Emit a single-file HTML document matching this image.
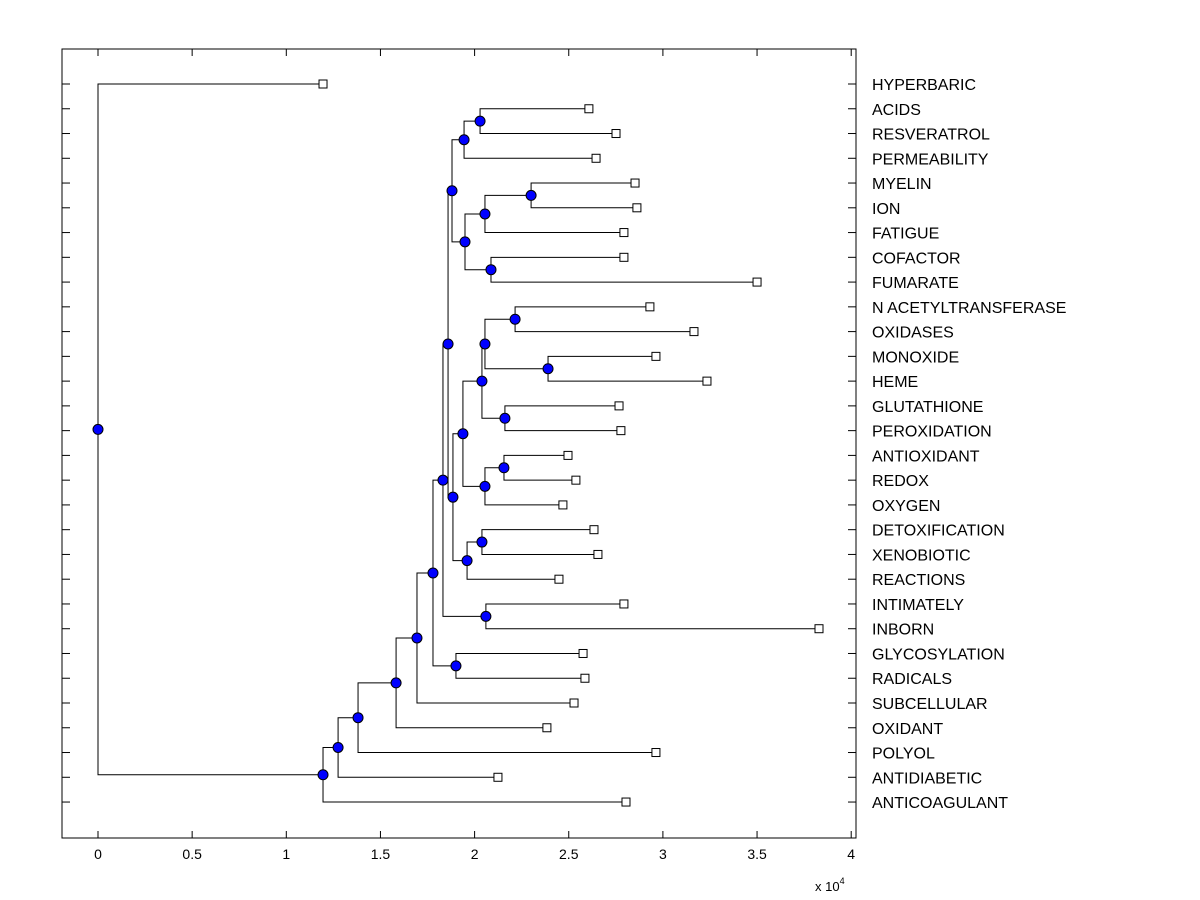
<!DOCTYPE html>
<html><head><meta charset="utf-8"><style>
html,body{margin:0;padding:0;background:#fff;}
svg{display:block;font-family:"Liberation Sans",Arial,sans-serif;}
</style></head><body>
<svg id="chart" width="1200" height="900" viewBox="0 0 1200 900" xmlns="http://www.w3.org/2000/svg">
<rect x="0" y="0" width="1200" height="900" fill="#fff"/>
<g id="marks"></g>
<g id="axes"></g>
<g id="labels"></g>
</svg>
<script>
const leafNames = ["HYPERBARIC","ACIDS","RESVERATROL","PERMEABILITY","MYELIN","ION","FATIGUE","COFACTOR","FUMARATE","N ACETYLTRANSFERASE","OXIDASES","MONOXIDE","HEME","GLUTATHIONE","PEROXIDATION","ANTIOXIDANT","REDOX","OXYGEN","DETOXIFICATION","XENOBIOTIC","REACTIONS","INTIMATELY","INBORN","GLYCOSYLATION","RADICALS","SUBCELLULAR","OXIDANT","POLYOL","ANTIDIABETIC","ANTICOAGULANT"];
const leafHeights = [1.195,2.607,2.751,2.645,2.852,2.862,2.793,2.793,3.5,2.931,3.165,2.963,3.234,2.767,2.777,2.496,2.538,2.469,2.634,2.655,2.448,2.793,3.829,2.576,2.586,2.528,2.384,2.963,2.124,2.804];
// merges: [childA, childB, height]; node ids 30+ in order
const mergeA = [1,30,4,32,7,33,31,9,11,37,13,39,15,42,41,18,45,44,36,21,48,23,50,52,53,54,55,56,0];
const mergeB = [2,3,5,6,8,34,35,10,12,38,14,40,16,17,43,19,20,46,47,22,49,24,51,25,26,27,28,29,57];
const mergeH = [2.029,1.944,2.3,2.055,2.087,1.949,1.88,2.215,2.39,2.055,2.161,2.039,2.156,2.055,1.938,2.039,1.96,1.885,1.859,2.06,1.832,1.901,1.779,1.694,1.583,1.381,1.275,1.195,0];
const xTicks = [0,0.5,1,1.5,2,2.5,3,3.5,4];
const xTickLabels = ["0","0.5","1","1.5","2","2.5","3","3.5","4"];

const L=62,R=856,T=49,B=838;
const xScale = v => 98 + v*188.3;
const yScale = i => 84 + i*24.76;
const NS="http://www.w3.org/2000/svg";
function mk(tag, attrs, parent){const e=document.createElementNS(NS,tag);for(const k in attrs)e.setAttribute(k,attrs[k]);parent.appendChild(e);return e;}
const marks=document.getElementById('marks'), axes=document.getElementById('axes'), labels=document.getElementById('labels');

const nodeX=[], nodeY=[];
for(let i=0;i<leafNames.length;i++){nodeX.push(leafHeights[i]);nodeY.push(i);}
for(let m=0;m<mergeA.length;m++){nodeX.push(mergeH[m]);nodeY.push((nodeY[mergeA[m]]+nodeY[mergeB[m]])/2);}

const dots=[];
for(let m=0;m<mergeA.length;m++){
  const id=leafNames.length+m, px=xScale(mergeH[m]);
  const a=mergeA[m], b=mergeB[m];
  const ya=yScale(nodeY[a]), yb=yScale(nodeY[b]);
  const p=mk('path',{d:`M${xScale(nodeX[a])},${ya}H${px}V${yb}H${xScale(nodeX[b])}`,fill:'none',stroke:'#000','stroke-width':1},marks);
  
  
  dots.push([px,yScale(nodeY[id]),id]);
}
for(const d of dots){
  const c=mk('circle',{cx:d[0],cy:d[1],r:5,fill:'#0000ff',stroke:'#000','stroke-width':1},marks);
  
  
}
for(let i=0;i<leafNames.length;i++){
  const s=mk('rect',{x:xScale(leafHeights[i])-4,y:yScale(i)-4,width:8,height:8,fill:'#fff',stroke:'#000','stroke-width':1},marks);
  
  
  const t=mk('text',{x:872,y:yScale(i)+6,'font-size':16,fill:'#000'},labels);
  t.textContent=leafNames[i];
  
  
  const tl=mk('line',{x1:L,x2:L+8,y1:yScale(i),y2:yScale(i),stroke:'#000'},axes);
  
  
  const tr=mk('line',{x1:R-8,x2:R,y1:yScale(i),y2:yScale(i),stroke:'#000'},axes);
  
  
}
const box=mk('rect',{x:L,y:T,width:R-L,height:B-T,fill:'none',stroke:'#000','stroke-width':1},axes);


for(let i=0;i<xTicks.length;i++){
  const x=xScale(xTicks[i]);
  const t1=mk('line',{x1:x,x2:x,y1:B,y2:B-7,stroke:'#000'},axes);
  
  
  const t2=mk('line',{x1:x,x2:x,y1:T,y2:T+7,stroke:'#000'},axes);
  
  
  const tx=mk('text',{x:x,y:859,'font-size':14,'text-anchor':'middle',fill:'#000'},axes);
  tx.textContent=xTickLabels[i];
  
  
}
const ex=mk('text',{x:815,y:891,'font-size':13,fill:'#000'},axes);


ex.innerHTML='x 10<tspan dy="-7" font-size="9">4</tspan>';
</script>
</body></html>
